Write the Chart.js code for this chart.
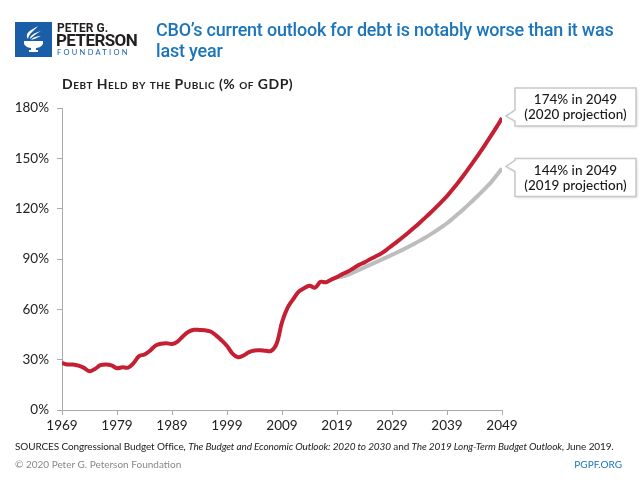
<!DOCTYPE html>
<html>
<head>
<meta charset="utf-8">
<script src="https://cdn.jsdelivr.net/npm/chart.js@4.4.1/dist/chart.umd.min.js"></script>
<style>
  html, body { margin: 0; padding: 0; background: #fff; }
  #wrap { position: relative; width: 640px; height: 480px; overflow: hidden; font-family: Lato, "Open Sans", sans-serif; }
  #box { position: absolute; left: 0; top: 0; width: 640px; height: 480px; }
  .abs { position: absolute; white-space: nowrap; }
  #title { left: 156px; top: 19px; font-family: Roboto, sans-serif; font-weight: 500; font-size: 19px; line-height: 21px; color: #1b75bb; letter-spacing: -0.2px; transform: scaleX(0.945); transform-origin: left top; }
  #subtitle { left: 62px; top: 75px; font-weight: 700; font-size: 14px; font-variant: small-caps; color: #222; letter-spacing: 0.5px; }
  #l1 { left: 57px; top: 21px; font-family: Roboto, sans-serif; font-weight: 700; font-size: 12px; color: #231f20; }
  #l2 { left: 56px; top: 30px; font-family: Roboto, sans-serif; font-weight: 700; font-size: 17px; color: #231f20; letter-spacing: -0.6px; }
  #l3 { left: 57px; top: 48px; font-size: 7.5px; color: #1a5ea8; letter-spacing: 2.3px; }
  #src { left: 15px; top: 440px; font-size: 10px; color: #222; letter-spacing: -0.12px; }
  #copy { left: 15px; top: 458px; font-size: 10px; color: #888; }
  #site { right: 18px; top: 458px; font-size: 10px; color: #1b75bb; }
</style>
</head>
<body>
<div id="wrap">
  <div id="box"><canvas id="debtChart"></canvas></div>
  <svg class="abs" style="left:15px;top:22px" width="37" height="35" viewBox="0 0 37 35">
    <rect width="37" height="35" fill="#1a5ea8"/>
    <path d="M13 17 C 9 11, 16 8, 23 4 C 19 9, 14 11, 13 17 Z" fill="#fff"/>
    <path d="M15 17 C 15 13, 20 11, 26 9 C 21 12, 18 14, 15 17 Z" fill="#fff"/>
    <path d="M16 18 C 18 15, 22 14, 26 14 C 22 16, 19 17, 16 18 Z" fill="#fff"/>
    <path d="M9 19 H28 V22 C 26 25, 23 26, 21 26 V28 H23 V30 H14 V28 H16 V26 C 14 26, 11 25, 9 22 Z" fill="#fff"/>
  </svg>
  <div class="abs" id="l1">PETER G.</div>
  <div class="abs" id="l2">PETERSON</div>
  <div class="abs" id="l3">FOUNDATION</div>
  <div class="abs" id="title">CBO’s current outlook for debt is notably worse than it was<br>last year</div>
  <div class="abs" id="subtitle">Debt Held by the Public (% of GDP)</div>
  <div class="abs" id="src">SOURCES Congressional Budget Office, <i>The Budget and Economic Outlook: 2020 to 2030</i> and <i>The 2019 Long-Term Budget Outlook</i>, June 2019.</div>
  <div class="abs" id="copy">© 2020 Peter G. Peterson Foundation</div>
  <div class="abs" id="site">PGPF.ORG</div>
</div>
<script>
// historical debt held by the public, % of GDP
const histYears = [1969,1970,1971,1972,1973,1974,1975,1976,1977,1978,1979,1980,1981,1982,1983,1984,1985,1986,1987,1988,1989,1990,1991,1992,1993,1994,1995,1996,1997,1998,1999,2000,2001,2002,2003,2004,2005,2006,2007,2008,2009,2010,2011,2012,2013,2014,2015,2016,2017,2018,2019];
const histDebt = [28.0,27.1,27.1,26.4,25.1,23.1,24.5,26.7,27.1,26.6,24.9,25.5,25.2,27.9,32.1,33.1,35.3,38.4,39.5,39.8,39.3,40.8,44.0,46.6,47.8,47.7,47.5,46.8,44.5,41.6,38.2,33.6,31.4,32.5,34.5,35.5,35.6,35.3,35.2,39.3,52.3,60.9,65.9,70.4,72.6,74.1,72.9,76.4,76.1,77.8,79.2];

// projections
const projYears = [2020,2021,2022,2023,2024,2025,2026,2027,2028,2029,2030,2031,2032,2033,2034,2035,2036,2037,2038,2039,2040,2041,2042,2043,2044,2045,2046,2047,2048,2049];
const proj2020 = [81.0,82.5,84.5,86.5,88.0,89.8,91.5,93.2,95.5,98.0,100.5,103.1,105.8,108.6,111.5,114.5,117.6,120.8,124.1,127.5,131.4,135.5,139.8,144.3,148.9,153.6,158.5,163.5,168.6,174.0];
const proj2019 = [79.5,80.5,82.0,83.5,85.0,86.5,88.0,89.5,91.0,92.5,94.0,95.6,97.3,99.0,100.8,102.7,104.7,106.8,109.0,111.3,114.0,116.8,119.7,122.7,125.8,129.0,132.3,135.7,139.8,144.0];

const xTicks = [1969,1979,1989,1999,2009,2019,2029,2039,2049];
const yTicks = [0,30,60,90,120,150,180];

const calloutLines = [
  ['174% in 2049', '(2020 projection)'],
  ['144% in 2049', '(2019 projection)']
];

const red = '#c41f32';
const grey = '#bdbdbd';

const histPoints = histYears.map((yr, i) => ({ x: yr, y: histDebt[i] }));
const redPoints = histPoints.concat(projYears.map((yr, i) => ({ x: yr, y: proj2020[i] })));
const greyPoints = histPoints.slice(-3).concat(projYears.map((yr, i) => ({ x: yr, y: proj2019[i] })));

const calloutPlugin = {
  id: 'callouts',
  afterDatasetsDraw(chart, args, opts) {
    const ctx = chart.ctx;
    opts.items.forEach(item => {
      const meta = chart.getDatasetMeta(item.dataset);
      const pt = meta.data[meta.data.length - 1];
      const tipX = pt.x + 4, tipY = pt.y - 2;
      const bx = pt.x + 13, bw = 121, bh = 38;
      const by = tipY - item.tipOffset;
      ctx.save();
      ctx.beginPath();
      ctx.moveTo(bx, by);
      ctx.lineTo(bx + bw, by);
      ctx.lineTo(bx + bw, by + bh);
      ctx.lineTo(bx, by + bh);
      ctx.lineTo(bx, tipY + 5);
      ctx.lineTo(tipX, tipY);
      ctx.lineTo(bx, tipY - 6);
      ctx.closePath();
      ctx.shadowColor = 'rgba(0,0,0,0.18)';
      ctx.shadowBlur = 3;
      ctx.shadowOffsetX = 1;
      ctx.shadowOffsetY = 1;
      ctx.fillStyle = '#fff';
      ctx.fill();
      ctx.shadowColor = 'transparent';
      ctx.strokeStyle = '#c8c8c8';
      ctx.lineWidth = 1.5;
      ctx.stroke();
      ctx.fillStyle = '#1a1a1a';
      ctx.font = '500 13.5px Lato, sans-serif';
      ctx.textAlign = 'center';
      ctx.textBaseline = 'middle';
      ctx.fillText(item.lines[0], bx + bw / 2, by + 12);
      ctx.fillText(item.lines[1], bx + bw / 2, by + 27);
      ctx.restore();
    });
  }
};

new Chart(document.getElementById('debtChart').getContext('2d'), {
  type: 'line',
  data: {
    datasets: [{
      label: '2020 projection',
      data: redPoints,
      borderColor: red,
      borderWidth: 4,
      pointRadius: 0,
      tension: 0.35,
      fill: false
    }, {
      label: '2019 projection',
      data: greyPoints,
      borderColor: grey,
      borderWidth: 4,
      pointRadius: 0,
      tension: 0.35,
      fill: false
    }]
  },
  options: {
    responsive: true,
    maintainAspectRatio: false,
    animation: false,
    layout: { padding: { left: 0, top: 108, right: 138, bottom: 45 } },
    plugins: {
      legend: { display: false },
      tooltip: { enabled: false },
      callouts: {
        items: [
          { dataset: 0, lines: calloutLines[0], tipOffset: 28 },
          { dataset: 1, lines: calloutLines[1], tipOffset: 8 }
        ]
      }
    },
    scales: {
      x: {
        type: 'linear',
        min: xTicks[0],
        max: xTicks[xTicks.length - 1],
        afterBuildTicks: scale => { scale.ticks = xTicks.map(v => ({ value: v })); },
        afterFit: scale => { scale.height = 25; },
        grid: { drawOnChartArea: false, drawTicks: true, tickLength: 5, color: '#aaa' },
        border: { color: '#aaa', width: 1 },
        ticks: {
          padding: 3,
          maxRotation: 0,
          autoSkip: false,
          color: '#222',
          font: { family: 'Lato, sans-serif', size: 13.5 },
          callback: v => String(v)
        }
      },
      y: {
        min: 0,
        max: 180,
        afterBuildTicks: scale => { scale.ticks = yTicks.map(v => ({ value: v })); },
        afterFit: scale => { scale.width = 62; },
        grid: { drawOnChartArea: false, drawTicks: true, tickLength: 5, color: '#aaa' },
        border: { color: '#aaa', width: 1 },
        ticks: {
          padding: 8,
          color: '#222',
          font: { family: 'Lato, sans-serif', size: 13.5 },
          callback: v => v + '%'
        }
      }
    }
  },
  plugins: [calloutPlugin]
});
</script>
</body>
</html>
